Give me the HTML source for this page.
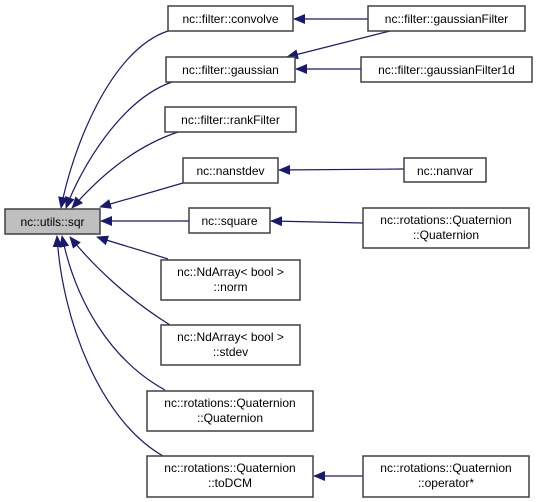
<!DOCTYPE html>
<html><head><meta charset="utf-8"><style>
body{margin:0;background:#fff;}
svg{display:block;}
text{font-family:"Liberation Sans",Arial,sans-serif;font-size:12px;fill:#000;}
.b{fill:#fff;stroke:#404040;stroke-width:1.5;}
.e{fill:none;stroke:#191970;stroke-width:1.2;}
</style></head><body>
<svg width="537" height="502" viewBox="0 0 537 502">
<defs><marker id="a" markerWidth="12" markerHeight="10" refX="11" refY="5" orient="auto" markerUnits="userSpaceOnUse"><polygon points="0,0 12,5 0,10" fill="#191970"/></marker></defs>
<g class="e" marker-end="url(#a)">
<path d="M168,31 C110,50 72,150 61,208"/>
<path d="M172,82 C120,100 80,170 66,208"/>
<path d="M178,132 C130,148 95,182 72,208"/>
<path d="M183,183 L100,207"/>
<path d="M189,221 L101,221"/>
<path d="M168,259 C140,250 115,243 97,237"/>
<path d="M170,325 C130,300 95,268 70,237"/>
<path d="M165,390 C110,360 75,300 62,236"/>
<path d="M163,456 C100,420 62,320 57,236"/>
<path d="M368,19 L294,19"/>
<path d="M390,31 L287,57"/>
<path d="M361,69 L296,69"/>
<path d="M404,169 L279,170"/>
<path d="M363,223 L271,221"/>
<path d="M363,476 L314,476"/>
</g>
<rect x="5" y="209" width="95" height="25" fill="#bfbfbf" stroke="#404040" stroke-width="1.5"/>
<text x="52.5" y="226" text-anchor="middle">nc::utils::sqr</text>
<g text-anchor="middle">
<rect class="b" x="168" y="6" width="125" height="25"/><text x="230.5" y="23">nc::filter::convolve</text>
<rect class="b" x="166" y="57" width="129" height="25"/><text x="230.5" y="74">nc::filter::gaussian</text>
<rect class="b" x="165" y="107" width="131" height="25"/><text x="230.5" y="124">nc::filter::rankFilter</text>
<rect class="b" x="183" y="158" width="95" height="25"/><text x="230.5" y="175">nc::nanstdev</text>
<rect class="b" x="189" y="208" width="81" height="25"/><text x="229.5" y="225">nc::square</text>
<rect class="b" x="161" y="260" width="139" height="40"/><text x="230.5" y="276">nc::NdArray&lt; bool &gt;</text><text x="230.5" y="291">::norm</text>
<rect class="b" x="161" y="325" width="139" height="40"/><text x="230.5" y="341">nc::NdArray&lt; bool &gt;</text><text x="230.5" y="356">::stdev</text>
<rect class="b" x="147" y="391" width="166" height="40"/><text x="230" y="407">nc::rotations::Quaternion</text><text x="230" y="422">::Quaternion</text>
<rect class="b" x="147" y="456" width="166" height="41"/><text x="230" y="472">nc::rotations::Quaternion</text><text x="230" y="487">::toDCM</text>
<rect class="b" x="368" y="6" width="157" height="25"/><text x="446.5" y="23">nc::filter::gaussianFilter</text>
<rect class="b" x="361" y="57" width="171" height="25"/><text x="446.5" y="74">nc::filter::gaussianFilter1d</text>
<rect class="b" x="404" y="158" width="82" height="24"/><text x="445" y="175">nc::nanvar</text>
<rect class="b" x="363" y="208" width="166" height="40"/><text x="446" y="224">nc::rotations::Quaternion</text><text x="446" y="239">::Quaternion</text>
<rect class="b" x="363" y="456" width="166" height="41"/><text x="446" y="472">nc::rotations::Quaternion</text><text x="446" y="487">::operator*</text>
</g>
</svg>
</body></html>
